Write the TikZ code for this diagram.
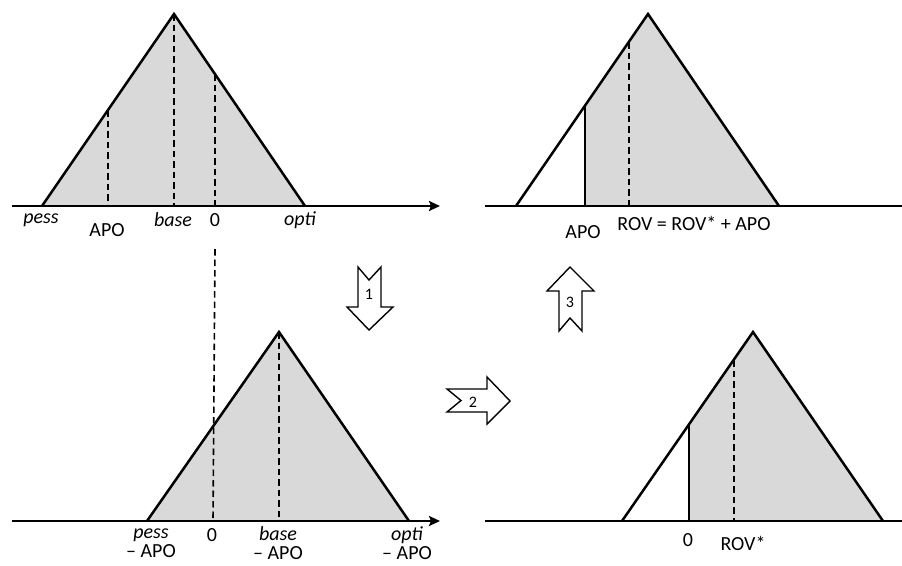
\documentclass[tikz,border=0pt]{standalone}
\usepackage{fontspec}
\setmainfont{Carlito}
\usetikzlibrary{arrows.meta}

\begin{document}
\begin{tikzpicture}[
    x=1pt, y=-1pt,
    every node/.style={font=\fontsize{20}{19}\selectfont, inner sep=0pt},
    axis/.style={line width=2.5pt},
    axisarrow/.style={line width=2.5pt, -{Stealth[length=11pt, width=10pt, inset=2pt]}},
    edge/.style={line width=2.5pt, line join=miter},
    cut/.style={line width=2.3pt},
    guide/.style={line width=1.6pt, dash pattern=on 6.5pt off 4pt},
    fuzzy/.style={fill=gray!30},
    blockarrow/.style={draw, fill=white, line width=1.4pt, line join=miter},
    steplabel/.style={font=\fontsize{16}{17}\selectfont},
    label/.style={align=center},
    mlabel/.style={font=\fontsize{20}{19}\selectfont\itshape}
]
\useasboundingbox (0,0) rectangle (902,565);

% -------------------------
% Panel A (top left)
% -------------------------
    \coordinate (aL) at (42,206);
    \coordinate (aT) at (174,14);
    \coordinate (aR) at (305,206);
    \fill[fuzzy] (aL) -- (aT) -- (aR) -- cycle;
    \draw[guide] (108,110) -- (108,206);
    \draw[guide] (aT) -- (174,206);
    \draw[guide] (215,74) -- (215,206);
    \draw[edge] (aL) -- (aT) -- (aR);
    \draw[axisarrow] (12,206) -- (440,206);

    \node[mlabel] (aPess) at (41,220) {pess};
    \node (aApo) at (107,230) {APO};
    \node[mlabel] (aBase) at (173,220) {base};
    \node (aZero) at (215,220) {0};
    \node[mlabel] (aOpti) at (300,220) {opti};

% -------------------------
% Panel B (bottom left)
% -------------------------
    \coordinate (bL) at (147,521);
    \coordinate (bT) at (279,332);
    \coordinate (bR) at (409,521);
    \fill[fuzzy] (bL) -- (bT) -- (bR) -- cycle;
    \draw[guide] (bT) -- (279,521);
    % zero line carried down from panel A
    \draw[guide] (215,249) -- (213,521);
    \draw[edge] (bL) -- (bT) -- (bR);
    \draw[axisarrow] (12,521) -- (440,521);

    \node[label] (bPess) at (151,543) {\textit{pess}\\– APO};
    \node (bZero) at (212,535) {0};
    \node[label] (bBase) at (278,543) {\textit{base}\\– APO};
    \node[label] (bOpti) at (407,543) {\textit{opti}\\– APO};

% -------------------------
% Panel C (top right)
% -------------------------
    \coordinate (cL) at (516,206);
    \coordinate (cT) at (648,14);
    \coordinate (cR) at (779,206);
    \coordinate (cCut) at (585,105.6);
    \fill[fuzzy] (585,206) -- (cCut) -- (cT) -- (cR) -- cycle;
    \draw[guide] (629,42) -- (629,206);
    \draw[cut] (cCut) -- (585,206);
    \draw[edge] (cL) -- (cT) -- (cR);
    \draw[axis] (485,206) -- (902,206);

    \node (cApo) at (583,232) {APO};
    \node (cRov) at (694,223) {ROV = ROV* + APO};

% -------------------------
% Panel D (bottom right)
% -------------------------
    \coordinate (dL) at (622,521);
    \coordinate (dT) at (753,332);
    \coordinate (dR) at (883,521);
    \coordinate (dCut) at (689,424.3);
    \fill[fuzzy] (689,521) -- (dCut) -- (dT) -- (dR) -- cycle;
    \draw[guide] (734,360) -- (734,521);
    \draw[cut] (dCut) -- (689,521);
    \draw[edge] (dL) -- (dT) -- (dR);
    \draw[axis] (485,521) -- (902,521);

    \node (dZero) at (688,540) {0};
    \node (dRov) at (743,543) {ROV*};

% -------------------------
% Step arrows
% -------------------------
    \draw[blockarrow] (358,267) -- (369,280) -- (381,267) -- (381,307) -- (393,307)
        -- (369,330) -- (347,307) -- (358,307) -- cycle;
    \node[steplabel] (step1) at (369,294) {1};

    \draw[blockarrow] (447,389) -- (487,389) -- (487,377) -- (510,401) -- (487,424)
        -- (487,412) -- (447,412) -- (461,400.5) -- cycle;
    \node[steplabel] (step2) at (473,402) {2};

    \draw[blockarrow] (559,331) -- (559,291) -- (547,291) -- (570,267) -- (594,291)
        -- (582,291) -- (582,331) -- (570,318) -- cycle;
    \node[steplabel] (step3) at (570,302) {3};
\end{tikzpicture}
\end{document}
